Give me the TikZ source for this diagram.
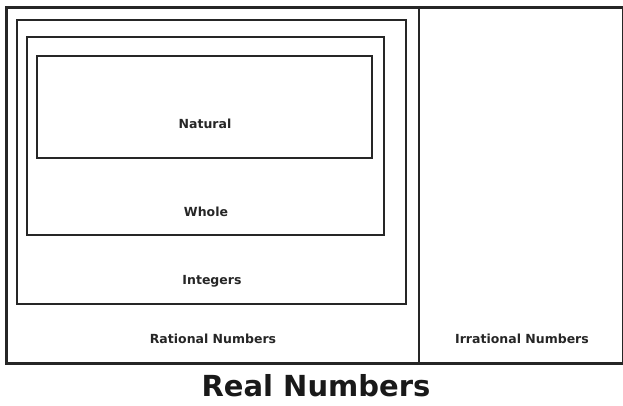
\documentclass[tikz,border=0pt]{standalone}
\usepackage{fontspec}
\setmainfont{DejaVu Sans}
\begin{document}
\begin{tikzpicture}[x=1pt,y=-1pt,
  box/.style={draw=black!85,line width=2.7pt},
  lbl/.style={font=\fontsize{12.5}{15}\selectfont\bfseries, text=black!85},
  big/.style={font=\fontsize{29}{32}\selectfont\bfseries, text=black!90}]
\useasboundingbox (0,0) rectangle (623,406);
\node[box,minimum width=617pt,minimum height=356pt,inner sep=0pt,anchor=north west] (real) at (5,6) {};
\coordinate (dtop) at (419,6);
\coordinate (dbot) at (419,362);
\draw[box] (dtop) -- (dbot);
\draw[box] (17,20) rectangle (406,304);
\draw[box] (27,37) rectangle (384,235);
\draw[box] (37,56) rectangle (372,158);
\node[lbl] (nat) at (205,124) {Natural};
\node[lbl] (who) at (206,212) {Whole};
\node[lbl] (int) at (212,281) {Integers};
\node[lbl] (rat) at (213,339) {Rational Numbers};
\node[lbl] (irr) at (522,339) {Irrational Numbers};
\node[big] (rn) at (316,386) {Real Numbers};
\end{tikzpicture}
\end{document}
